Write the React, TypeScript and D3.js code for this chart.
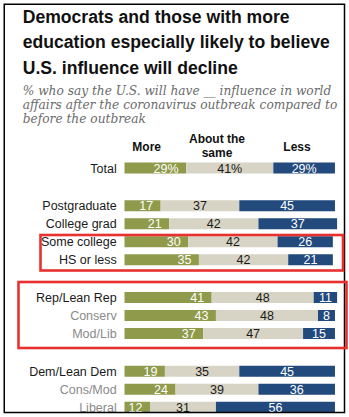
import React from "react";
import * as d3 from "d3";

const title = [
  "Democrats and those with more",
  "education especially likely to believe",
  "U.S. influence will decline",
];
const subtitle = [
  "% who say the U.S. will have __ influence in world",
  "affairs after the coronavirus outbreak compared to",
  "before the outbreak",
];
const categories = [
  "Total",
  "Postgraduate",
  "College grad",
  "Some college",
  "HS or less",
  "Rep/Lean Rep",
  "Conserv",
  "Mod/Lib",
  "Dem/Lean Dem",
  "Cons/Mod",
  "Liberal",
];
const groupOf = [0, 1, 1, 1, 1, 2, 2, 2, 3, 3, 3];
const subLabel = [false, false, false, false, false, false, true, true, false, true, true];
const more = [29, 17, 21, 30, 35, 41, 43, 37, 19, 24, 12];
const same = [41, 37, 42, 42, 42, 48, 48, 47, 35, 39, 31];
const less = [29, 45, 37, 26, 21, 11, 8, 15, 45, 36, 56];
const seriesKeys = ["more", "same", "less"];
const seriesHeaders = [["More"], ["About the", "same"], ["Less"]];

const COLORS: Record<string, string> = {
  more: "#8f9a4b",
  same: "#d8d4c5",
  less: "#224a7c",
};
const TEXT_COLORS: Record<string, string> = {
  more: "#ffffff",
  same: "#1a1a1a",
  less: "#ffffff",
};

export default function App() {
  const W = 349;
  const H = 417;
  const rows = categories.map((c, i) => ({
    name: c,
    i,
    more: more[i],
    same: same[i],
    less: less[i],
  }));
  const stack = d3.stack<any>().keys(seriesKeys);
  const layers = stack(rows as any);
  const x = d3.scaleLinear().domain([0, 100]).range([124.5, 337.1]);
  const rowStep = 18;
  const groupGap = 19.75;
  const y0 = 168;
  const yc = (i: number) => y0 + i * rowStep + groupOf[i] * groupGap;
  const barH = 11;
  const sans = "'Liberation Sans', Arial, sans-serif";
  const headerX = [146.7, 217, 297];

  return (
    <svg
      width={W}
      height={H}
      style={{ position: "absolute", left: 0, top: 0, background: "#fff" }}
    >
      <defs>
        <clipPath id="frameClip">
          <rect x={4} y={4} width={340.5} height={408.5} />
        </clipPath>
      </defs>
      <rect x={0} y={0} width={W} height={H} fill="#fff" />
      <g clipPath="url(#frameClip)">
        {title.map((t, k) => (
          <text
            key={k}
            x={22.7}
            y={22.5 + k * 25.5}
            fontFamily={sans}
            fontWeight="bold"
            fontSize={17.6}
            fill="#111"
          >
            {t}
          </text>
        ))}
        {subtitle.map((t, k) => (
          <text
            key={k}
            x={22.7}
            y={94.5 + k * 14}
            fontFamily="'DejaVu Serif', Georgia, serif"
            fontStyle="italic"
            fontSize={12.2}
            fill="#6b6b6b"
          >
            {t}
          </text>
        ))}
        {seriesHeaders.map((lines, s) =>
          lines.map((l, k) => (
            <text
              key={s + "-" + k}
              x={headerX[s]}
              y={lines.length === 1 ? 150.7 : 143 + k * 13.5}
              textAnchor="middle"
              fontFamily={sans}
              fontWeight="bold"
              fontSize={12}
              fill="#111"
            >
              {l}
            </text>
          ))
        )}
        {rows.map((r) => (
          <text
            key={r.name}
            x={116.7}
            y={yc(r.i)}
            dy="0.36em"
            textAnchor="end"
            fontFamily={sans}
            fontSize={12.5}
            fill={subLabel[r.i] ? "#8a8a8a" : "#1a1a1a"}
          >
            {r.name}
          </text>
        ))}
        {layers.map((layer) => (
          <g key={layer.key}>
            {layer.map((d, i) => (
              <rect
                key={i}
                x={x(d[0])}
                y={yc(i) - barH / 2}
                width={x(d[1]) - x(d[0])}
                height={barH}
                fill={COLORS[layer.key]}
              />
            ))}
            {layer.map((d, i) => {
              const v = d[1] - d[0];
              const label = i === 0 ? v + "%" : String(v);
              const isMore = layer.key === "more";
              return (
                <text
                  key={"t" + i}
                  x={isMore ? x(d[1]) - 7.5 : (x(d[0]) + x(d[1])) / 2}
                  y={yc(i)}
                  dy="0.37em"
                  textAnchor={isMore ? "end" : "middle"}
                  fontFamily={sans}
                  fontSize={12.5}
                  fill={TEXT_COLORS[layer.key]}
                >
                  {label}
                </text>
              );
            })}
          </g>
        ))}
      </g>
      <rect
        x={4.25}
        y={4.25}
        width={340.25}
        height={408.25}
        fill="none"
        stroke="#000"
        strokeWidth={1.5}
      />
      <rect
        x={40.5}
        y={235}
        width={302.5}
        height={35.5}
        fill="none"
        stroke="#e8312f"
        strokeWidth={2.6}
      />
      <rect
        x={18.5}
        y={282}
        width={328}
        height={66}
        fill="none"
        stroke="#e8312f"
        strokeWidth={2.6}
      />
    </svg>
  );
}
